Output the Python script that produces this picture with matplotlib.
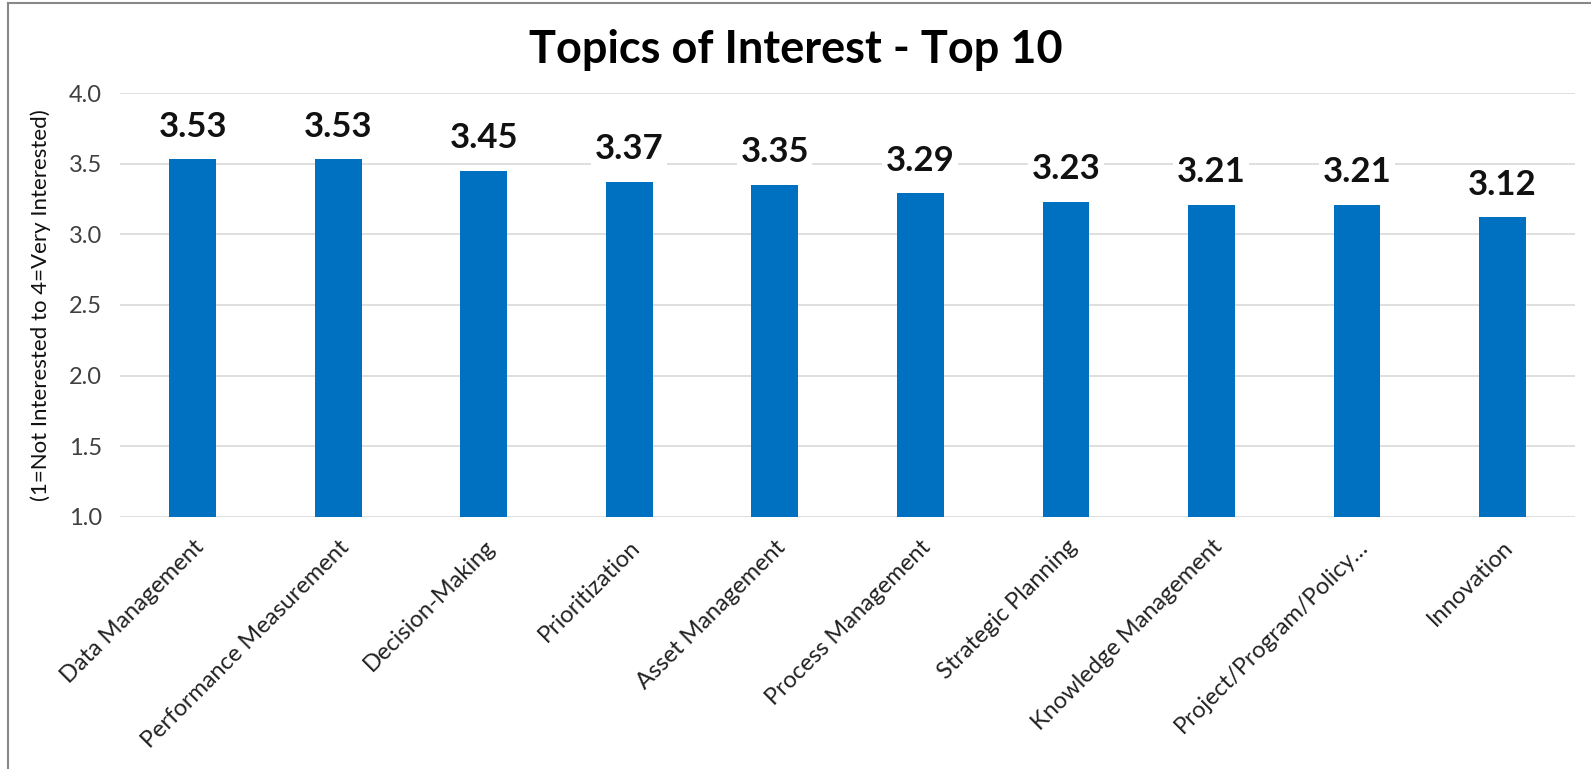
import matplotlib
matplotlib.use("Agg")
import matplotlib.pyplot as plt
from matplotlib.lines import Line2D
import numpy as np

plt.rcParams['font.family'] = ['Lato', 'DejaVu Sans']

topics = ["Data Management", "Performance Measurement", "Decision-Making",
          "Prioritization", "Asset Management", "Process Management",
          "Strategic Planning", "Knowledge Management",
          "Project/Program/Policy\u2026", "Innovation"]
scores = [3.53, 3.53, 3.45, 3.37, 3.35, 3.29, 3.23, 3.21, 3.21, 3.12]
yticks = [1.0, 1.5, 2.0, 2.5, 3.0, 3.5, 4.0]

fig = plt.figure(figsize=(15.91, 7.69), dpi=100)
ax = fig.add_axes([0.0754, 0.328, 0.9146, 0.551])

x = np.arange(len(topics))
ax.bar(x, scores, width=0.32, color="#0070C0", zorder=2)

for xi, v in zip(x, scores):
    ax.annotate(f"{v:.2f}", (xi, v), xytext=(0, 12), textcoords="offset points",
                ha="center", va="bottom", fontsize=25, fontweight="bold",
                color="#111111", zorder=3,
                bbox=dict(boxstyle="square,pad=0.1", fc="white", ec="none"))

ax.set_ylim(1.0, 4.0)
ax.set_xlim(-0.5, len(topics) - 0.5)
ax.set_yticks(yticks)
ax.set_yticklabels([f"{t:.1f}" for t in yticks], fontsize=17, color="#404040")
ax.set_xticks(x)
ax.set_xticklabels(topics, rotation=45, ha="right", rotation_mode="anchor",
                   fontsize=17, color="#222222")
ax.tick_params(axis="both", length=0)
ax.tick_params(axis="x", pad=14)
ax.tick_params(axis="y", pad=13)
ax.grid(axis="y", color="#D9D9D9", linewidth=1.2, zorder=0)
ax.set_axisbelow(True)
for s in ax.spines.values():
    s.set_visible(False)

ax.set_ylabel("(1=Not Interested to 4=Very Interested)", fontsize=16,
              color="#111111", labelpad=13)

fig.text(0.5, 0.935, "Topics of Interest - Top 10", ha="center", va="center",
         fontsize=32.5, fontweight="bold", color="#000000")

# outer border (top and left visible in the reference)
fig.add_artist(Line2D([0.005, 1.0], [0.996, 0.996], transform=fig.transFigure,
                      color="#888888", linewidth=1.5))
fig.add_artist(Line2D([0.005, 0.005], [0.0, 0.996], transform=fig.transFigure,
                      color="#888888", linewidth=1.5))

fig.savefig("out.png", dpi=100, facecolor="white")
